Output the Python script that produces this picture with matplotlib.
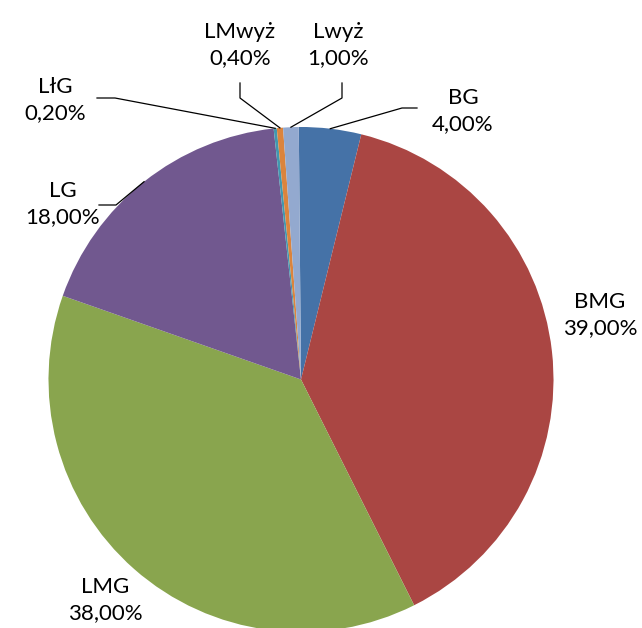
import numpy as np
import matplotlib.pyplot as plt

labels = ["BG", "BMG", "LMG", "LG", "LłG", "LMwyż", "Lwyż"]
values = [4.0, 39.0, 38.0, 18.0, 0.2, 0.4, 1.0]
colors = ["#4572A7", "#AA4643", "#89A54E", "#71588F", "#4198AF", "#DB843D", "#93A9CF"]

W, H = 642, 628
fig = plt.figure(figsize=(W / 100, H / 100), dpi=100)
ax = fig.add_axes([0, 0, 1, 1])

cx, cy, r = 301.0, H - 379.5, 252.5
wedges, _ = ax.pie(values, colors=colors, startangle=90.5, counterclock=False,
                   center=(cx, cy), radius=r, frame=True,
                   wedgeprops=dict(linewidth=0))
ax.set_xlim(0, W)
ax.set_ylim(0, H)
ax.axis("off")

# label placement (image pixel coords, y measured from top) and leader elbows
text_pos = {
    "BG": (463, 111),
    "BMG": (600, 315),
    "LMG": (105, 600),
    "LG": (63, 204),
    "LłG": (55, 100),
    "LMwyż": (240, 45),
    "Lwyż": (338, 45),
}
leaders = {
    "BG": [(417, 108), (402, 108)],
    "LłG": [(97, 98), (115, 98)],
    "LG": [(99, 205), (116, 205)],
    "LMwyż": [(240, 83), (240, 98)],
    "Lwyż": [(342, 83), (342, 98)],
}

for w, lab, val in zip(wedges, labels, values):
    tx, ty = text_pos[lab]
    txt = "%s\n%.2f%%" % (lab, val)
    txt = txt.replace(".", ",")
    ax.text(tx, H - ty, txt, ha="center", va="center", fontsize=16,
            family="Lato", linespacing=1.42, color="black")
    if lab in leaders:
        ang = np.deg2rad((w.theta1 + w.theta2) / 2)
        px = cx + r * np.cos(ang)
        py = cy + r * np.sin(ang)
        pts = leaders[lab]
        xs = [p[0] for p in pts] + [px]
        ys = [H - p[1] for p in pts] + [py]
        ax.plot(xs, ys, color="black", linewidth=0.9)

fig.savefig("out.png", dpi=100)
